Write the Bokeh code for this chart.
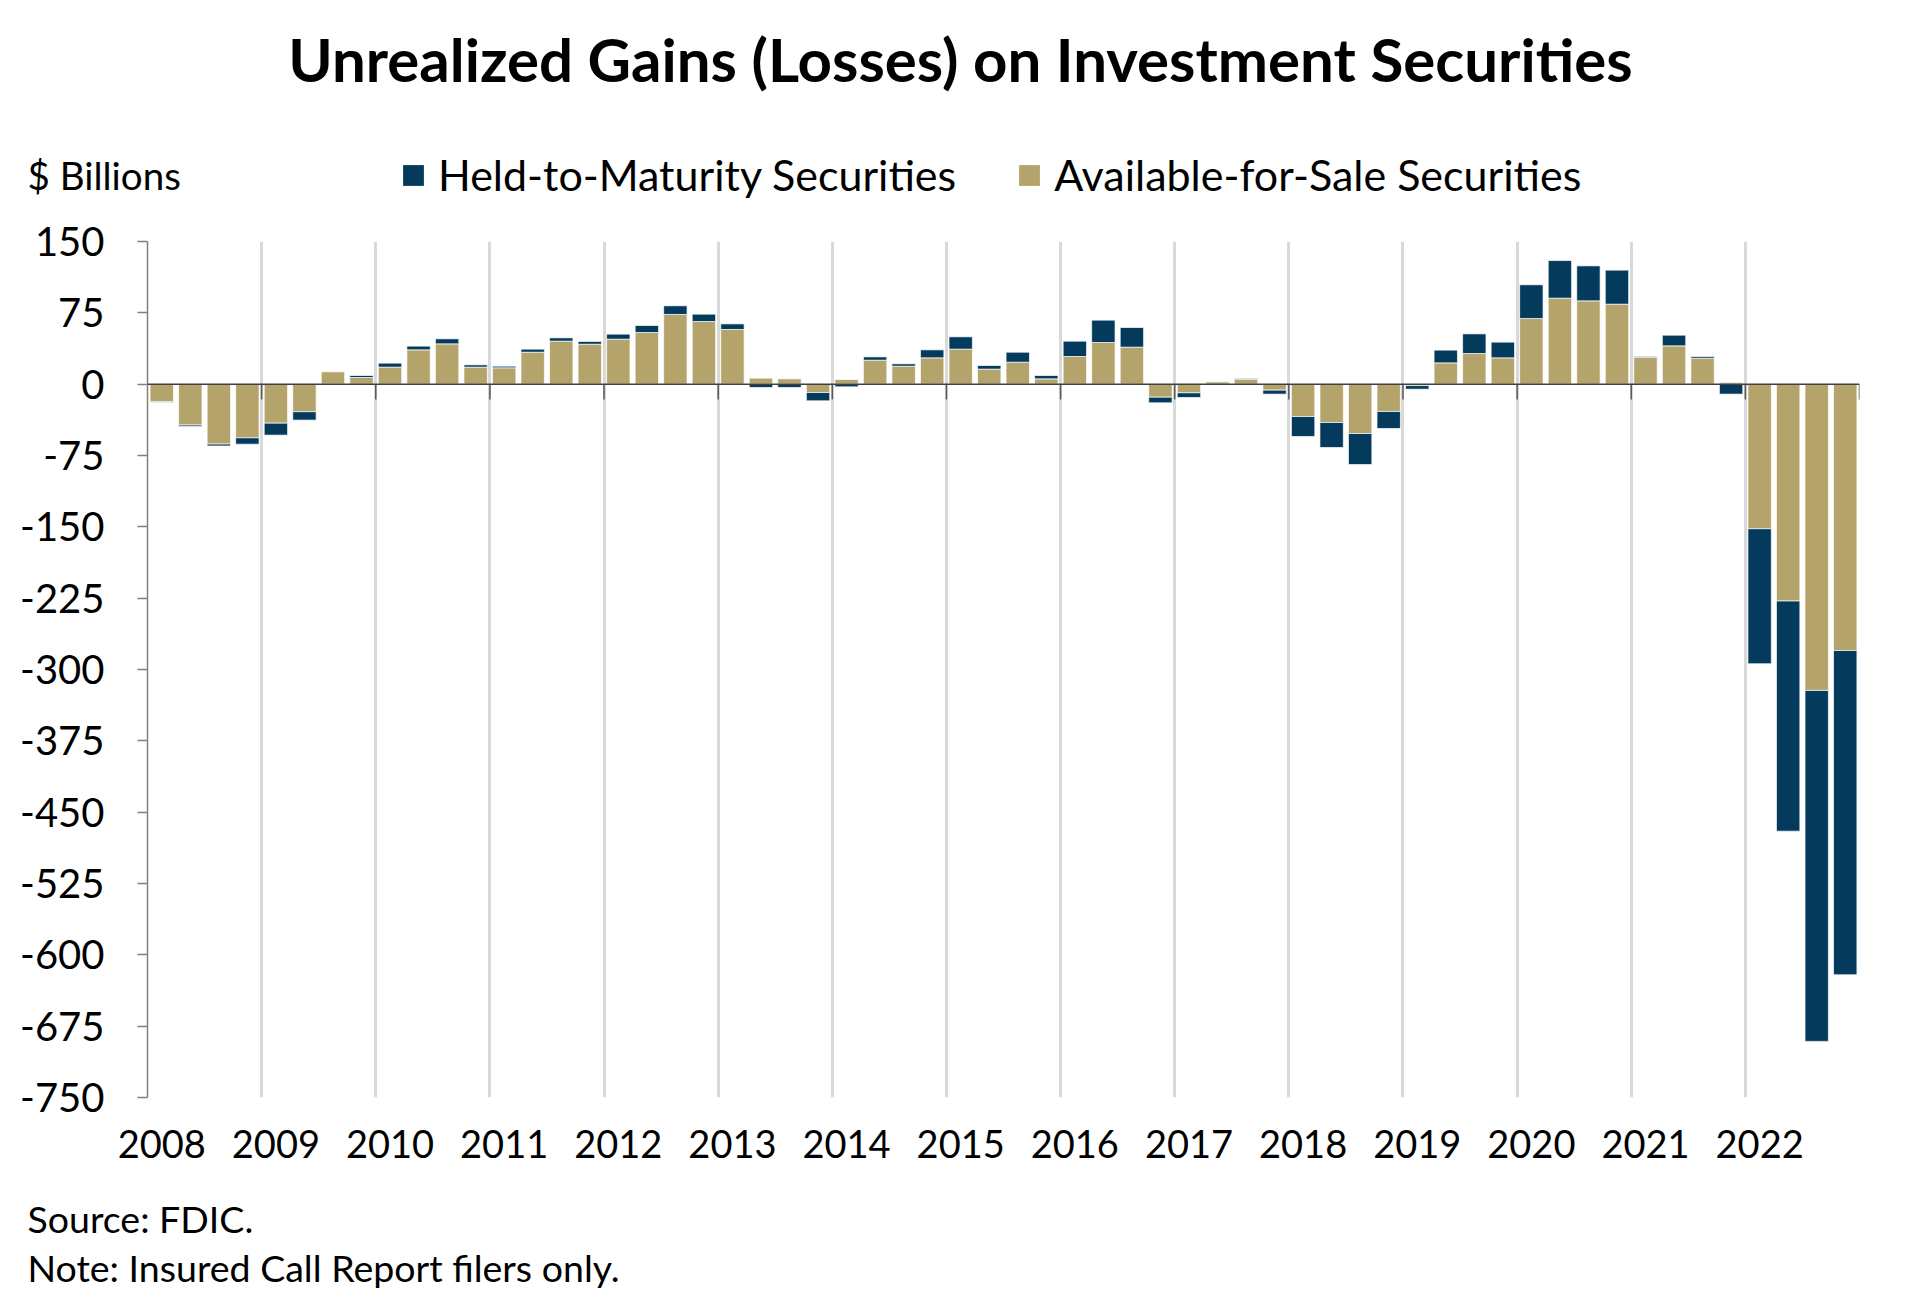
import numpy as np
from bokeh.plotting import figure
from bokeh.models import FixedTicker, Span, Legend, LegendItem, ColumnDataSource
from bokeh.core.properties import value
from bokeh.embed import file_html
from bokeh.resources import INLINE

# ---------------- data ----------------
years = [str(y) for y in range(2008, 2023)]
quarters = ["Q1", "Q2", "Q3", "Q4"]

# Available-for-Sale unrealized gains (losses), $ billions, quarterly 2008Q1-2022Q4
afs = [
    -18.5, -43.0, -63.0, -56.4,   # 2008
    -41.0, -29.0, 13.0, 7.0,      # 2009
    17.9, 36.1, 42.4, 17.9,       # 2010
    17.2, 33.6, 45.2, 42.0,       # 2011
    47.3, 54.3, 73.3, 65.9,       # 2012
    57.5, 6.3, 5.6, -8.8,         # 2013
    4.9, 25.2, 18.9, 27.7,        # 2014
    36.8, 15.8, 23.1, 5.6,        # 2015
    29.1, 43.8, 38.9, -13.7,      # 2016
    -9.1, 2.5, 4.9, -6.3,         # 2017
    -34.0, -40.3, -51.9, -28.7,   # 2018
    -1.5, 22.4, 32.2, 27.7,       # 2019
    69.0, 90.4, 87.6, 84.1,       # 2020
    28.0, 40.3, 27.3, 1.8,        # 2021
    -152.0, -228.0, -322.0, -280.0,  # 2022
]
# Held-to-Maturity unrealized gains (losses), $ billions
htm = [
    -0.4, -1.4, -2.0, -6.7,
    -12.6, -8.8, -0.7, 2.1,
    4.2, 3.9, 5.3, 2.4,
    1.7, 3.2, 3.5, 2.9,
    5.3, 7.4, 9.1, 7.7,
    5.9, -3.5, -3.5, -8.7,
    -2.8, 3.5, 2.5, 8.4,
    13.0, 3.8, 10.5, 3.5,
    16.1, 23.5, 20.7, -5.9,
    -4.9, 0.3, 1.0, -4.2,
    -21.0, -26.3, -32.6, -17.9,
    -3.8, 13.4, 20.7, 16.5,
    35.5, 39.6, 36.8, 35.8,
    1.1, 11.2, 1.8, -10.5,
    -142.0, -242.0, -369.0, -341.0,
]

y_ticks = [150, 75, 0, -75, -150, -225, -300, -375, -450, -525, -600, -675, -750]
y_tick_labels = [str(v) for v in y_ticks]

series_names = ["Held-to-Maturity Securities", "Available-for-Sale Securities"]
title_text = "Unrealized Gains (Losses) on Investment Securities"
unit_text = "$ Billions"
source_text = "Source: FDIC."
note_text = "Note: Insured Call Report filers only."

# ---------------- styling ----------------
NAVY = "#043A5C"
TAN = "#B4A46B"
FONT = "Lato"
W = 1904
BORDER_L, BORDER_R = 147, 45
HEAD_H, MAIN_H, FOOT_H = 216, 961, 112


def blank(height):
    f = figure(width=W, height=height, output_backend="svg", toolbar_location=None,
               x_range=(0, W), y_range=(0, height),
               min_border=0, x_axis_location=None, y_axis_location=None)
    f.outline_line_color = None
    f.xgrid.grid_line_color = None
    f.ygrid.grid_line_color = None
    return f


# ---------------- header: title, unit, legend ----------------
head = blank(HEAD_H)
head.text(x=[960], y=[HEAD_H - 58], text=[title_text], text_font=value(FONT),
          text_font_style="bold", text_font_size=value("60px"), text_color="black",
          text_align="center", text_baseline="middle")
head.text(x=[27], y=[HEAD_H - 174], text=[unit_text], text_font=value(FONT),
          text_font_size=value("38.5px"), text_color="black",
          text_align="left", text_baseline="middle")
d_htm = head.vbar(x=[-9999], top=[0], bottom=[0], width=1, fill_color=NAVY, line_color=None)
d_afs = head.vbar(x=[-9999], top=[0], bottom=[0], width=1, fill_color=TAN, line_color=None)
legend = Legend(items=[LegendItem(label=series_names[0], renderers=[d_htm]),
                       LegendItem(label=series_names[1], renderers=[d_afs])],
                orientation="horizontal", location=(400, HEAD_H - 174 - 26),
                glyph_width=26, glyph_height=26, label_standoff=12, spacing=60,
                padding=0, margin=0, border_line_color=None, background_fill_alpha=0,
                label_text_font=FONT, label_text_font_size="43px", label_text_color="black")
head.add_layout(legend)

# ---------------- main chart ----------------
n = len(afs)
nq = len(quarters)
a = np.array(afs)
h = np.array(htm)
xs = np.arange(n) + 0.5
htm_bottom = np.where(h >= 0, np.maximum(a, 0), np.minimum(a, 0))
src = ColumnDataSource(dict(
    x=xs, afs_top=a, afs_bottom=np.zeros(n),
    htm_bottom=htm_bottom, htm_top=htm_bottom + h,
))

p = figure(width=W, height=MAIN_H, output_backend="svg", toolbar_location=None,
           x_range=(0, n), y_range=(min(y_ticks), max(y_ticks)),
           min_border_left=BORDER_L, min_border_right=BORDER_R,
           min_border_top=25, min_border_bottom=80)
p.outline_line_color = None

bounds = list(np.arange(0, n + 1, nq))
p.xgrid.ticker = FixedTicker(ticks=bounds)
p.xgrid.grid_line_color = "#D9D9D9"
p.xgrid.grid_line_width = 3
p.ygrid.grid_line_color = None

p.vbar(x="x", top="afs_top", bottom="afs_bottom", width=0.82, source=src,
       fill_color=TAN, line_color="white", line_width=1, line_alpha=0.7)
p.vbar(x="x", top="htm_top", bottom="htm_bottom", width=0.82, source=src,
       fill_color=NAVY, line_color="white", line_width=1, line_alpha=0.7)

p.add_layout(Span(location=0, dimension="width", line_color="#404040", line_width=1.5))
inner_bounds = bounds[1:]
p.segment(x0=inner_bounds, y0=[0] * len(inner_bounds), x1=inner_bounds,
          y1=[-16] * len(inner_bounds), line_color="#595959", line_width=1.5)

label_pos = [i * nq + 0.5 for i in range(len(years))]
p.xaxis.ticker = FixedTicker(ticks=label_pos)
p.xaxis.major_label_overrides = {pos: yr for pos, yr in zip(label_pos, years)}
p.xaxis.axis_line_color = None
p.xaxis.major_tick_line_color = None
p.xaxis.minor_tick_line_color = None
p.xaxis.major_label_text_font = FONT
p.xaxis.major_label_text_font_size = "38px"
p.xaxis.major_label_text_color = "black"
p.xaxis.major_label_standoff = 26

p.yaxis.ticker = FixedTicker(ticks=y_ticks)
p.yaxis.major_label_overrides = {v: s for v, s in zip(y_ticks, y_tick_labels)}
p.yaxis.axis_line_color = "#808080"
p.yaxis.axis_line_width = 1.5
p.yaxis.major_tick_line_color = "#808080"
p.yaxis.major_tick_line_width = 1.5
p.yaxis.major_tick_out = 10
p.yaxis.major_tick_in = 0
p.yaxis.minor_tick_line_color = None
p.yaxis.major_label_text_font = FONT
p.yaxis.major_label_text_font_size = "40px"
p.yaxis.major_label_text_color = "black"
p.yaxis.major_label_standoff = 33

# ---------------- footer ----------------
foot = blank(FOOT_H)
foot.text(x=[27, 27], y=[FOOT_H - 41, FOOT_H - 90],
          text=[source_text, note_text],
          text_font=value(FONT), text_font_size=value("37.5px"), text_color="black",
          text_align="left", text_baseline="middle")

# three independent roots stacked on the page (avoids frame alignment of a column)
open("out.html", "w").write(file_html([head, p, foot], INLINE))
